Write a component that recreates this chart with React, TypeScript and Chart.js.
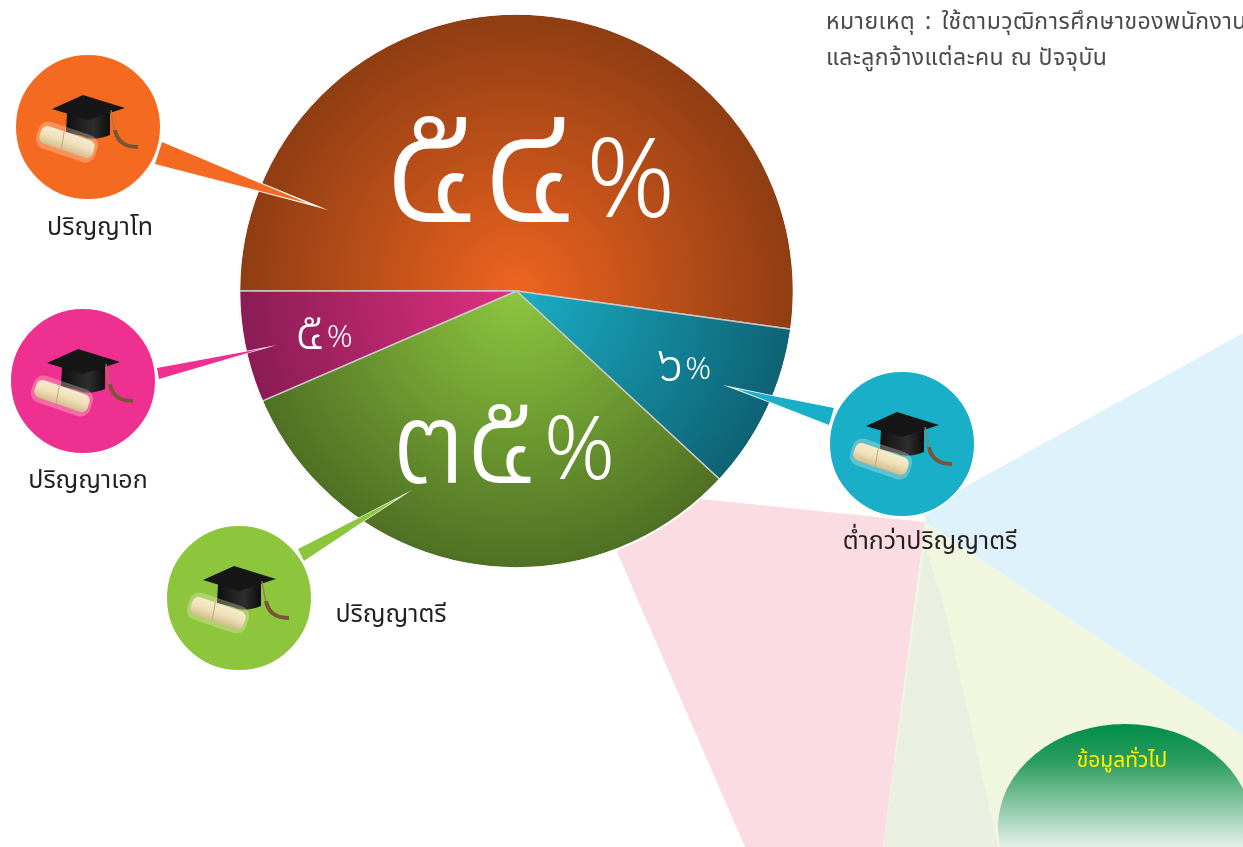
import React, { useEffect, useRef } from "react";
import { Chart, registerables } from "chart.js";

Chart.register(...registerables);

const categories = ["ปริญญาโท", "ต่ำกว่าปริญญาตรี", "ปริญญาตรี", "ปริญญาเอก"];
const sliceShares = [52.2, 9.7, 31.6, 6.5];
const percentDigits = ["๕๔", "๖", "๓๕", "๕"];
const innerColors = ["#EE6420", "#1BAEC6", "#8DC63F", "#E0317F"];
const outerColors = ["#8F3D13", "#0E6274", "#4F7024", "#8A1C55"];
const badgeColors = ["#F56A21", "#19AFC8", "#8DC63C", "#EE3190"];
const noteLines = ["หมายเหตุ : ใช้ตามวุฒิการศึกษาของพนักงาน", "และลูกจ้างแต่ละคน ณ ปัจจุบัน"];
const panelTitle = "ข้อมูลทั่วไป";

const FONT = '"Noto Sans Thai", "Noto Sans", "DejaVu Sans", "Liberation Sans", sans-serif';
const labelPos = [
  { x: 529, y: 167, digit: 180, pct: 110 },
  { x: 684, y: 366, digit: 50, pct: 32 },
  { x: 503, y: 442, digit: 134, pct: 88 },
  { x: 324, y: 333, digit: 54, pct: 32 },
];
const badges = [
  { c: [88, 127], base: [[162, 142], [155, 164]], tip: [328, 210], label: [100, 230] },
  { c: [902, 444], base: [[834, 408], [829, 425]], tip: [723, 385], label: [930, 544] },
  { c: [239, 598], base: [[298, 549], [304, 561]], tip: [412, 490], label: [391, 617] },
  { c: [83, 381], base: [[157, 368], [159, 379]], tip: [277, 345], label: [88, 483] },
];

function poly(ctx: CanvasRenderingContext2D, pts: number[][], fill: string) {
  ctx.beginPath();
  pts.forEach((p, i) => (i ? ctx.lineTo(p[0], p[1]) : ctx.moveTo(p[0], p[1])));
  ctx.closePath();
  ctx.fillStyle = fill;
  ctx.fill();
}

function drawHat(ctx: CanvasRenderingContext2D, cx: number, cy: number) {
  ctx.save();
  ctx.translate(cx, cy);
  // cap body
  const b = ctx.createLinearGradient(-20, 0, 22, 0);
  b.addColorStop(0, "#111");
  b.addColorStop(0.6, "#2E2E2E");
  b.addColorStop(1, "#0D0D0D");
  ctx.fillStyle = b;
  ctx.beginPath();
  ctx.moveTo(-21, -14);
  ctx.lineTo(22, -14);
  ctx.lineTo(22, 8);
  ctx.quadraticCurveTo(4, 15, -6, 9);
  ctx.lineTo(-22, 5);
  ctx.closePath();
  ctx.fill();
  // board
  poly(ctx, [[-5, -32], [37, -19], [0, -7], [-36, -18]], "#161616");
  // tassel
  ctx.strokeStyle = "#A07A4A";
  ctx.lineWidth = 1.3;
  ctx.beginPath();
  ctx.moveTo(23, -17);
  ctx.lineTo(27, 6);
  ctx.stroke();
  ctx.strokeStyle = "#7A5535";
  ctx.lineWidth = 4;
  ctx.beginPath();
  ctx.moveTo(27, 3);
  ctx.quadraticCurveTo(30, 20, 50, 20);
  ctx.stroke();
  // scroll
  ctx.save();
  ctx.translate(-21, 15);
  ctx.rotate(0.33);
  ctx.fillStyle = "rgba(255,240,215,0.3)";
  ctx.beginPath();
  ctx.roundRect(-31, -14, 62, 28, 10);
  ctx.fill();
  const g = ctx.createLinearGradient(0, -10, 0, 10);
  g.addColorStop(0, "#F7EDD2");
  g.addColorStop(0.5, "#EFE0B8");
  g.addColorStop(1, "#D2BA8A");
  ctx.fillStyle = g;
  ctx.beginPath();
  ctx.roundRect(-28, -9, 56, 18, 6);
  ctx.fill();
  ctx.strokeStyle = "#C0A678";
  ctx.lineWidth = 1;
  ctx.beginPath();
  ctx.moveTo(-6, -9);
  ctx.lineTo(-3, 9);
  ctx.stroke();
  ctx.restore();
  ctx.restore();
}

const backdrop = {
  id: "backdrop",
  beforeDraw(chart: any) {
    const ctx: CanvasRenderingContext2D = chart.ctx;
    ctx.save();
    ctx.fillStyle = "#FFFFFF";
    ctx.fillRect(0, 0, 1243, 847);
    poly(ctx, [[925, 509], [1243, 333], [1243, 735], [925, 522]], "#DDF2FA");
    poly(ctx, [[925, 522], [1243, 735], [1243, 847], [883, 847]], "#F1F6DF");
    poly(ctx, [[925, 545], [945, 610], [998, 847], [883, 847]], "#E9F0E1");
    poly(ctx, [[617, 552], [690, 498], [760, 505], [925, 522], [883, 847], [745, 847]], "#FADCE2");
    const g = ctx.createLinearGradient(0, 724, 0, 847);
    g.addColorStop(0, "#008E46");
    g.addColorStop(0.3, "#2B9C5E");
    g.addColorStop(1, "#E4F0E8");
    ctx.fillStyle = g;
    ctx.beginPath();
    ctx.ellipse(1125, 827, 127, 103, 0, 0, Math.PI * 2);
    ctx.fill();
    ctx.restore();
  },
};

const overlay = {
  id: "overlay",
  afterDraw(chart: any) {
    const ctx: CanvasRenderingContext2D = chart.ctx;
    const arc = chart.getDatasetMeta(0).data[0];
    ctx.save();
    ctx.beginPath();
    ctx.arc(arc.x, arc.y, arc.outerRadius, 0, Math.PI * 2);
    ctx.strokeStyle = "#FFFFFF";
    ctx.lineWidth = 2;
    ctx.stroke();
    ctx.textAlign = "center";
    ctx.textBaseline = "middle";
    badges.forEach((b, i) => {
      poly(ctx, [b.base[0], b.tip, b.base[1]], "#FFFFFF");
      const mx = b.tip[0] + (b.base[0][0] + b.base[1][0] - 2 * b.tip[0]) * 0.06;
      const my = b.tip[1] + (b.base[0][1] + b.base[1][1] - 2 * b.tip[1]) * 0.06;
      poly(ctx, [b.base[0], [mx, my], b.base[1]], badgeColors[i]);
      ctx.beginPath();
      ctx.arc(b.c[0], b.c[1], 73, 0, Math.PI * 2);
      ctx.fillStyle = badgeColors[i];
      ctx.fill();
      ctx.strokeStyle = "#FFFFFF";
      ctx.lineWidth = 2;
      ctx.stroke();
      drawHat(ctx, b.c[0], b.c[1]);
      ctx.fillStyle = "#231F20";
      ctx.font = `25px ${FONT}`;
      ctx.fillText(categories[i], b.label[0], b.label[1]);
    });
    ctx.textAlign = "left";
    ctx.fillStyle = "#4A4A4A";
    ctx.font = `23px ${FONT}`;
    (ctx as any).letterSpacing = "0.5px";
    (ctx as any).wordSpacing = "3.5px";
    ctx.fillText(noteLines[0], 826, 24);
    (ctx as any).wordSpacing = "0px";
    ctx.fillText(noteLines[1], 826, 60);
    (ctx as any).letterSpacing = "0px";
    ctx.textAlign = "center";
    ctx.fillStyle = "#FFF200";
    ctx.font = `21px ${FONT}`;
    ctx.fillText(panelTitle, 1122, 763);
    ctx.restore();
  },
};

export default function App() {
  const ref = useRef<HTMLCanvasElement>(null);
  useEffect(() => {
    document.body.style.margin = "0";
    const chart = new Chart(ref.current!, {
      type: "pie",
      data: {
        labels: categories,
        datasets: [
          {
            data: sliceShares,
            borderColor: "#C9C9C9",
            borderWidth: 1.5,
            backgroundColor: (c: any) => {
              const { chart: ch, dataIndex } = c;
              const arc = ch.getDatasetMeta(0).data[0];
              if (!arc || !arc.outerRadius) return innerColors[dataIndex];
              const g = ch.ctx.createRadialGradient(arc.x, arc.y, 0, arc.x, arc.y, arc.outerRadius);
              g.addColorStop(0, innerColors[dataIndex]);
              g.addColorStop(1, outerColors[dataIndex]);
              return g;
            },
          },
        ],
      },
      options: {
        responsive: false,
        animation: false,
        rotation: 270,
        layout: { padding: { left: 238, right: 448, top: 13, bottom: 278 } },
        plugins: { legend: { display: false }, tooltip: { enabled: false } },
      },
      plugins: [backdrop, overlay],
    } as any);
    chart.update();
    return () => chart.destroy();
  }, []);
  return (
    <div style={{ position: "relative", width: 1243, height: 847, overflow: "hidden" }}>
      <canvas ref={ref} width={1243} height={847} style={{ display: "block" }} />
      {percentDigits.map((d, i) => (
        <div
          key={i}
          style={{
            position: "absolute",
            left: labelPos[i].x,
            top: labelPos[i].y,
            transform: "translate(-50%, -50%)",
            color: "#FFFFFF",
            fontFamily: FONT,
            fontWeight: 300,
            fontSize: labelPos[i].digit,
            lineHeight: 1,
            whiteSpace: "nowrap",
          }}
        >
          {d}
          <span
            style={{
              fontSize: labelPos[i].pct,
              marginLeft: labelPos[i].pct * 0.06,
              position: "relative",
              top: -labelPos[i].pct * 0.05,
            }}
          >
            %
          </span>
        </div>
      ))}
    </div>
  );
}
